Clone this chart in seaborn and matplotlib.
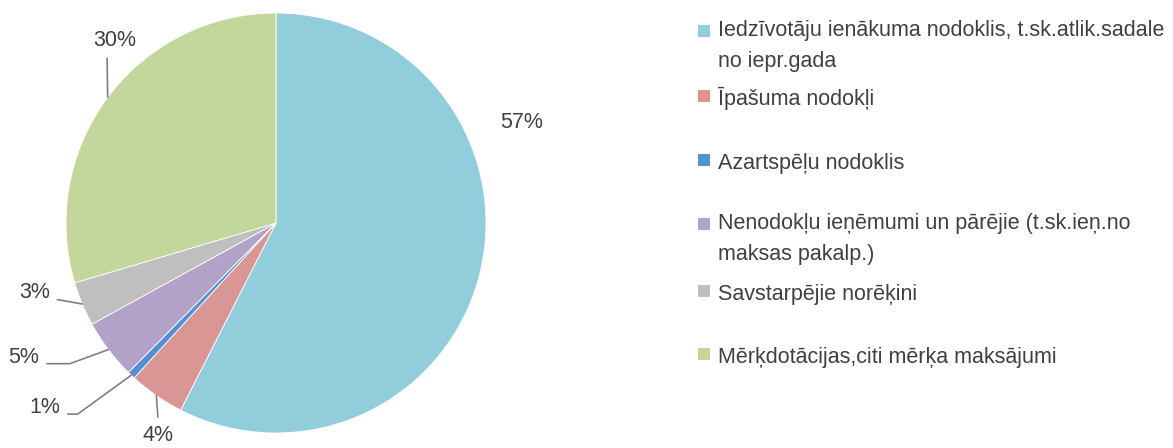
import numpy as np
import matplotlib
matplotlib.use("Agg")
import matplotlib.pyplot as plt
from matplotlib.patches import Rectangle
import seaborn as sns

# data
categories = [
    "Iedzīvotāju ienākuma nodoklis, t.sk.atlik.sadale\nno iepr.gada",
    "Īpašuma nodokļi",
    "Azartspēļu nodoklis",
    "Nenodokļu ieņēmumi un pārējie (t.sk.ieņ.no\nmaksas pakalp.)",
    "Savstarpējie norēķini",
    "Mērķdotācijas,citi mērķa maksājumi",
]
shares = [57.5, 4.3, 0.6, 4.6, 3.4, 29.6]
pct_labels = ["57%", "4%", "1%", "5%", "3%", "30%"]
colors = ["#92CDDC", "#D99694", "#558ED5", "#B3A2C7", "#BFBFBF", "#C3D69B"]

# layout (pie data coords, radius 1)
label_pos = [(1.17, 0.48), (-0.56, -1.01), (-1.10, -0.88),
             (-1.20, -0.64), (-1.15, -0.33), (-0.77, 0.87)]
# leader line: (connection style, start point on the label box) or None
leaders = [None,
           ("arc3", (0.5, 1.0)),
           ("angle,angleA=0,angleB=36,rad=0", (1.0, 0.2)),
           ("angle,angleA=0,angleB=20,rad=0", (1.0, 0.2)),
           ("angle,angleA=0,angleB=-10,rad=0", (1.0, 0.2)),
           ("arc3", (0.33, 0.0))]
legend_y = [40, 105, 169, 233, 300, 363]  # baseline of first line, px
line_px = 27

W, H = 1173, 448
sns.set_theme(style="white")
plt.rcParams["font.family"] = ["Liberation Sans", "DejaVu Sans"]
txt = "#404040"
fs = 15.5

fig = plt.figure(figsize=(W / 100, H / 100), dpi=100)
ax = fig.add_axes([0, 0, 552 / W, 1])

wedges, _ = ax.pie(shares, colors=colors, startangle=90, counterclock=False,
                   radius=1, wedgeprops=dict(edgecolor="white", linewidth=0.6))
ax.set_xlim(-276 / 210, 276 / 210)
ax.set_ylim(-225 / 210, 223 / 210)
ax.set_aspect("equal")
ax.axis("off")

for w, lab, (tx, ty), ld in zip(wedges, pct_labels, label_pos, leaders):
    mid = np.deg2rad((w.theta1 + w.theta2) / 2)
    ex, ey = np.cos(mid), np.sin(mid)
    if ld is None:
        ax.text(tx, ty, lab, ha="center", va="center", fontsize=fs, color=txt)
        continue
    cs, rp = ld
    ax.annotate(lab, xy=(ex, ey), xytext=(tx, ty), ha="center", va="center",
                fontsize=fs, color=txt,
                arrowprops=dict(arrowstyle="-", color="#808080", lw=1.2,
                                connectionstyle=cs, relpos=rp,
                                shrinkA=3, shrinkB=0))

for c, lab, yb in zip(colors, categories, legend_y):
    nl = lab.count("\n")
    fig.patches.append(Rectangle((698 / W, 1 - (yb - 3) / H), 12 / W, 12 / H,
                                 transform=fig.transFigure, facecolor=c,
                                 edgecolor="none"))
    # baseline alignment of multiline text uses the last line
    fig.text(718 / W, 1 - (yb + nl * line_px) / H, lab, ha="left",
             va="baseline", fontsize=fs, color=txt, linespacing=1.62)

fig.savefig("out.png", dpi=100)
